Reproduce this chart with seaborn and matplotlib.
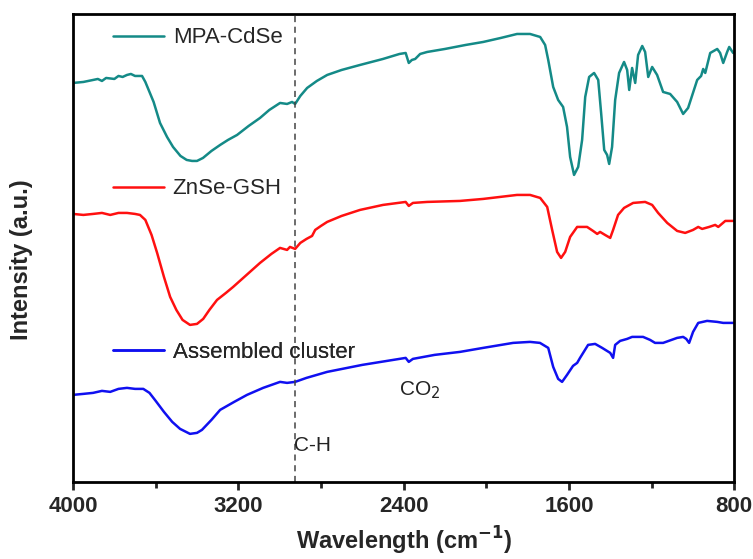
import pandas as pd
import matplotlib
matplotlib.use('Agg')
import matplotlib.pyplot as plt
import seaborn as sns
from matplotlib.ticker import MultipleLocator
from matplotlib.lines import Line2D

# wavenumbers (cm-1) and intensities (a.u.)
mpa_wn = [4000, 3950, 3903, 3880, 3860, 3840, 3800, 3780, 3760, 3739, 3720, 3700,
          3666, 3650, 3610, 3579, 3545, 3516, 3480, 3450, 3424, 3400, 3371, 3330,
          3288, 3250, 3206, 3150, 3095, 3050, 2998, 2964, 2940, 2925, 2900, 2867,
          2820, 2770, 2700, 2611, 2500, 2420, 2390, 2375, 2360, 2344, 2320, 2286,
          2200, 2100, 2015, 1930, 1851, 1788, 1739, 1715, 1700, 1676, 1652, 1628,
          1609, 1594, 1575, 1555, 1536, 1521, 1502, 1478, 1458, 1444, 1429, 1415,
          1405, 1391, 1376, 1357, 1333, 1318, 1308, 1294, 1279, 1265, 1245, 1231,
          1216, 1197, 1173, 1144, 1110, 1076, 1047, 1023, 979, 960, 950, 940,
          916, 882, 868, 853, 834, 824, 805]
mpa_int = [399, 400, 402, 403, 401, 404, 403, 406, 405, 407, 408, 406,
           406, 400, 380, 359, 345, 335, 326, 322, 321, 321, 324, 331,
           337, 342, 347, 356, 364, 372, 379, 378, 380, 378, 386, 394,
           401, 407, 412, 417, 423, 428, 429, 419, 422, 423, 428, 430,
           433, 437, 440, 444, 448, 448, 445, 437, 422, 395, 382, 375,
           355, 325, 307, 315, 342, 385, 405, 409, 402, 369, 332, 327,
           318, 335, 382, 409, 420, 412, 392, 414, 399, 427, 436, 430,
           405, 415, 407, 390, 388, 380, 368, 374, 402, 406, 413, 409,
           429, 433, 429, 419, 430, 435, 429]

znse_wn = [4000, 3950, 3903, 3860, 3820, 3780, 3739, 3700, 3676, 3650, 3620, 3593,
           3560, 3530, 3500, 3470, 3434, 3400, 3370, 3340, 3303, 3260, 3225, 3160,
           3095, 3040, 2998, 2964, 2950, 2925, 2900, 2870, 2843, 2828, 2800, 2770,
           2700, 2611, 2500, 2390, 2375, 2355, 2286, 2127, 2015, 1851, 1788, 1739,
           1705, 1681, 1657, 1638, 1618, 1594, 1560, 1512, 1483, 1463, 1449, 1425,
           1400, 1386, 1362, 1333, 1289, 1231, 1197, 1168, 1124, 1076, 1037, 999,
           974, 955, 921, 892, 877, 843, 805]
znse_int = [268, 267, 268, 269, 267, 269, 269, 268, 267, 262, 247, 229,
            205, 185, 172, 162, 157, 158, 163, 172, 182, 189, 195, 207,
            219, 228, 234, 232, 235, 233, 239, 243, 246, 252, 256, 260,
            266, 272, 277, 280, 276, 279, 280, 281, 283, 287, 287, 284,
            275, 252, 230, 224, 230, 245, 255, 255, 251, 248, 250, 247,
            244, 252, 267, 274, 279, 280, 277, 269, 259, 251, 249, 252,
            255, 253, 255, 257, 255, 261, 261]

asm_wn = [4000, 3950, 3903, 3860, 3820, 3780, 3739, 3700, 3660, 3630, 3600, 3560,
          3520, 3482, 3434, 3400, 3376, 3330, 3288, 3220, 3158, 3080, 2998, 2964,
          2925, 2870, 2770, 2600, 2390, 2375, 2355, 2250, 2127, 2015, 1870, 1788,
          1740, 1700, 1676, 1652, 1633, 1609, 1580, 1560, 1546, 1507,
          1473, 1439, 1400, 1386, 1376, 1352, 1318, 1294, 1241, 1207, 1183, 1144,
          1076, 1047, 1032, 1018, 999, 974, 931, 882, 853, 805]
asm_int = [87, 88, 89, 91, 90, 93, 94, 93, 93, 89, 81, 70,
           60, 53, 48, 49, 52, 62, 72, 80, 87, 94, 100, 99,
           100, 104, 110, 117, 124, 120, 123, 127, 130, 134, 139, 140,
           139, 134, 115, 103, 100, 107, 116, 119, 124, 137,
           138, 134, 129, 124, 137, 141, 143, 145, 145, 142, 139, 139,
           144, 145, 143, 139, 150, 159, 161, 160, 159, 159]

names = ['MPA-CdSe', 'ZnSe-GSH', 'Assembled cluster']
colors = ['#148A87', '#FF1010', '#1010F0']

df = pd.concat([
    pd.DataFrame({'wn': mpa_wn, 'val': mpa_int, 'sample': names[0]}),
    pd.DataFrame({'wn': znse_wn, 'val': znse_int, 'sample': names[1]}),
    pd.DataFrame({'wn': asm_wn, 'val': asm_int, 'sample': names[2]}),
])

sns.set_style('ticks')
plt.rcParams['font.family'] = ['Liberation Sans', 'DejaVu Sans']

fig = plt.figure(figsize=(7.53, 5.59), dpi=100)
ax = fig.add_axes([0.097, 0.138, 0.878, 0.837])

sns.lineplot(data=df, x='wn', y='val', hue='sample', palette=colors,
             sort=False, estimator=None, linewidth=1.8, ax=ax, legend=False)

# C-H marker line
ax.axvline(2925, color='#444444', linestyle=(0, (4, 3)), linewidth=1.1)

ax.set_xlim(4000, 800)
ax.set_ylim(0, 468)
ax.set_yticks([])
ax.xaxis.set_major_locator(MultipleLocator(800))
ax.xaxis.set_minor_locator(MultipleLocator(400))
ax.tick_params(axis='x', which='major', direction='out', length=6, width=2,
               labelsize=16, pad=4)
ax.tick_params(axis='x', which='minor', direction='out', length=4, width=2)
for lab in ax.get_xticklabels():
    lab.set_fontweight('bold')
for sp in ax.spines.values():
    sp.set_linewidth(2)
    sp.set_color('black')

ax.set_xlabel('Wavelength (cm$^{\\mathbf{-1}}$)', fontsize=17, fontweight='bold', labelpad=6)
ax.set_ylabel('Intensity (a.u.)', fontsize=17, fontweight='bold')
ax.yaxis.set_label_coords(-0.06, 0.475)

# one legend entry beside each curve
ys = [0.949, 0.626, 0.276]
for name, col, y in zip(names, colors, ys):
    h = Line2D([], [], color=col, linewidth=1.8)
    leg = ax.legend([h], [name], loc='center left', bbox_to_anchor=(0.06, y),
                    frameon=False, fontsize=16, handlelength=2.3,
                    handletextpad=0.4, borderpad=0, borderaxespad=0)
    ax.add_artist(leg)

ax.text(2930, 36, 'C-H', fontsize=15, ha='left', va='center', color='#222222')
ax.text(2420, 92, 'CO$_2$', fontsize=15, ha='left', va='center', color='#222222')

fig.savefig('out.png', dpi=100)
